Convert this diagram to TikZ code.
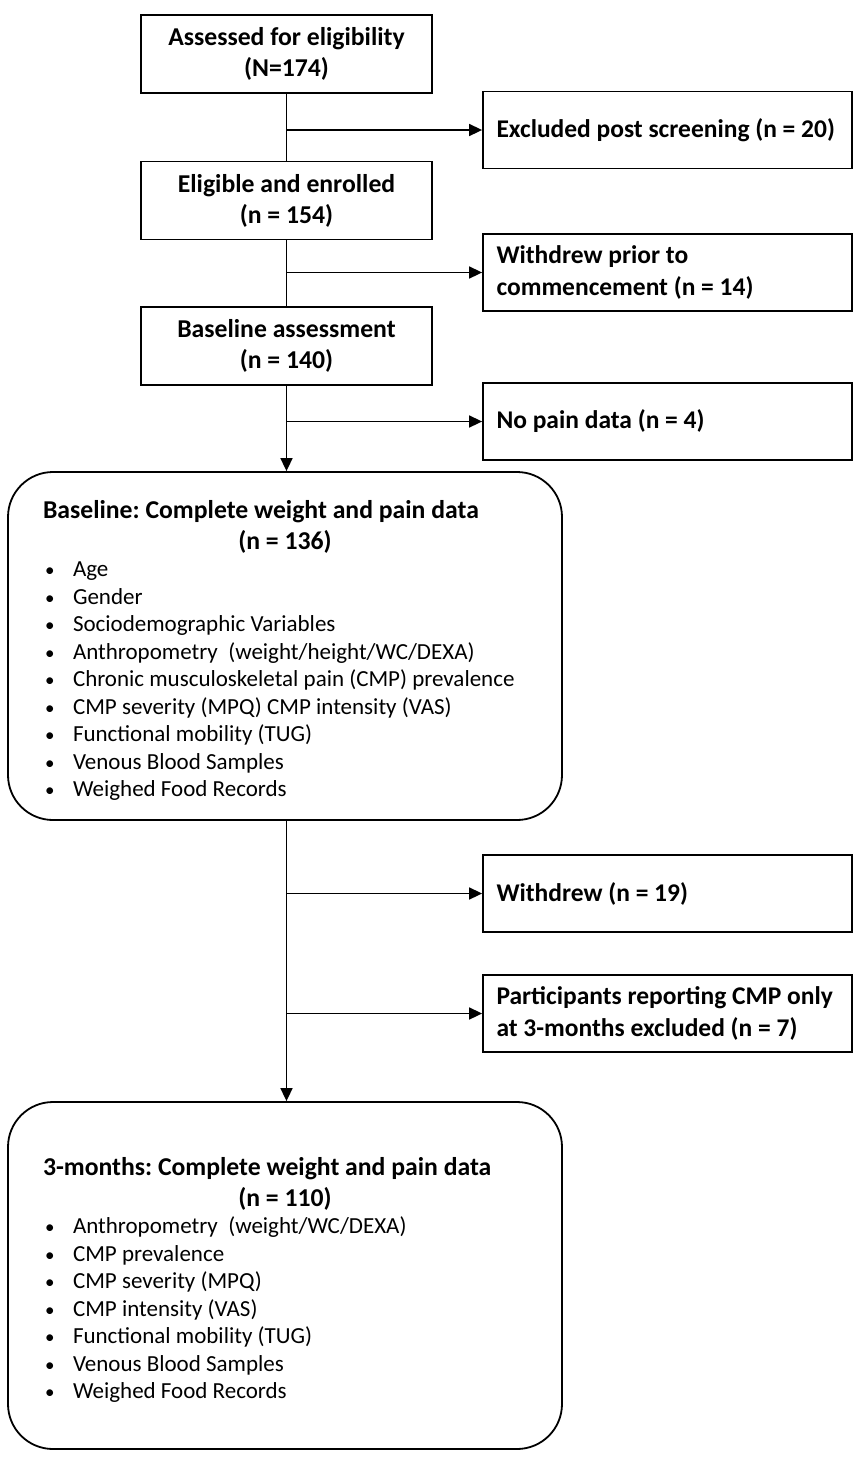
\documentclass[tikz,border=0pt]{standalone}
\usepackage{fontspec}
\setmainfont{Carlito}
\usetikzlibrary{arrows.meta}
\newcommand\titlefont{\bfseries\fontsize{25.7}{31}\selectfont}
\newcommand\sidefont{\bfseries\fontsize{25.5}{32}\selectfont}
\newcommand\itemfont{\fontsize{23}{27.5}\selectfont}
\newcommand\bul{\makebox[30pt][l]{\hspace{2pt}{\fontsize{19}{19}\selectfont•}}}
\begin{document}
\frenchspacing
\begin{tikzpicture}[x=1pt,y=-1pt,
  mainbox/.style={draw, rectangle, line width=1.8pt, minimum width=291pt, minimum height=78pt, inner sep=0pt, align=center, font=\titlefont},
  sidebox/.style={draw, rectangle, line width=1.8pt, text width=342pt, inner xsep=13.5pt, inner ysep=0pt, minimum height=77pt, align=flush left, font=\sidefont},
  roundbox/.style={draw, rectangle, rounded corners=45pt, line width=1.8pt, text width=484pt, inner xsep=35pt, inner ysep=0pt, minimum height=348pt, align=flush left},
  conn/.style={line width=1.6pt},
  arr/.style={conn, -{Triangle[length=13pt,width=12pt]}}]
\useasboundingbox[fill=white] (0,0) rectangle (856,1460);

\node[mainbox] (b1) at (286.5,54) {Assessed for eligibility\\(N=174)};
\node[mainbox] (b2) at (286.5,200.5) {Eligible and enrolled\\(n = 154)};
\node[mainbox] (b3) at (286.5,346) {Baseline assessment\\(n = 140)};

\node[sidebox] (e1) at (667.5,130) {Excluded post screening (n = 20)};
\node[sidebox] (e2) at (667.5,272.5) {Withdrew prior to\\commencement (n = 14)};
\node[sidebox] (e3) at (667.5,421.5) {No pain data (n = 4)};
\node[sidebox] (e4) at (667.5,893.5) {Withdrew (n = 19)};
\node[sidebox] (e5) at (667.5,1013.5) {Participants reporting CMP only\\at 3-months excluded (n = 7)};

\node[roundbox] (r1) at (285,646) {%
{\titlefont\rule{0pt}{27pt}Baseline: Complete weight and pain data\par}%
{\titlefont\makebox[\linewidth][c]{(n = 136)}\par}%
{\itemfont
\bul Age\par
\bul Gender\par
\bul Sociodemographic Variables\par
\bul Anthropometry~ (weight/height/WC/DEXA)\par
\bul Chronic musculoskeletal pain (CMP) prevalence\par
\bul CMP severity (MPQ) CMP intensity (VAS)\par
\bul Functional mobility (TUG)\par
\bul Venous Blood Samples\par
\bul Weighed Food Records\par}};

\node[roundbox, minimum height=347pt] (r2) at (285,1275.5) {%
{\titlefont\rule{0pt}{27pt}3-months: Complete weight and pain data\par}%
{\titlefont\makebox[\linewidth][c]{(n = 110)}\par}%
{\itemfont
\bul Anthropometry~ (weight/WC/DEXA)\par
\bul CMP prevalence\par
\bul CMP severity (MPQ)\par
\bul CMP intensity (VAS)\par
\bul Functional mobility (TUG)\par
\bul Venous Blood Samples\par
\bul Weighed Food Records\par}};

\draw[conn] (b1.south) -- (b2.north);
\draw[arr] (b1.south |- e1.west) -- (e1.west);
\draw[conn] (b2.south) -- (b3.north);
\draw[arr] (b2.south |- e2.west) -- (e2.west);
\draw[arr] (b3.south) -- (b3.south |- r1.north);
\draw[arr] (b3.south |- e3.west) -- (e3.west);
\draw[arr] (b3.south |- r1.south) -- (b3.south |- r2.north);
\draw[arr] (b3.south |- e4.west) -- (e4.west);
\draw[arr] (b3.south |- e5.west) -- (e5.west);
\end{tikzpicture}
\end{document}
